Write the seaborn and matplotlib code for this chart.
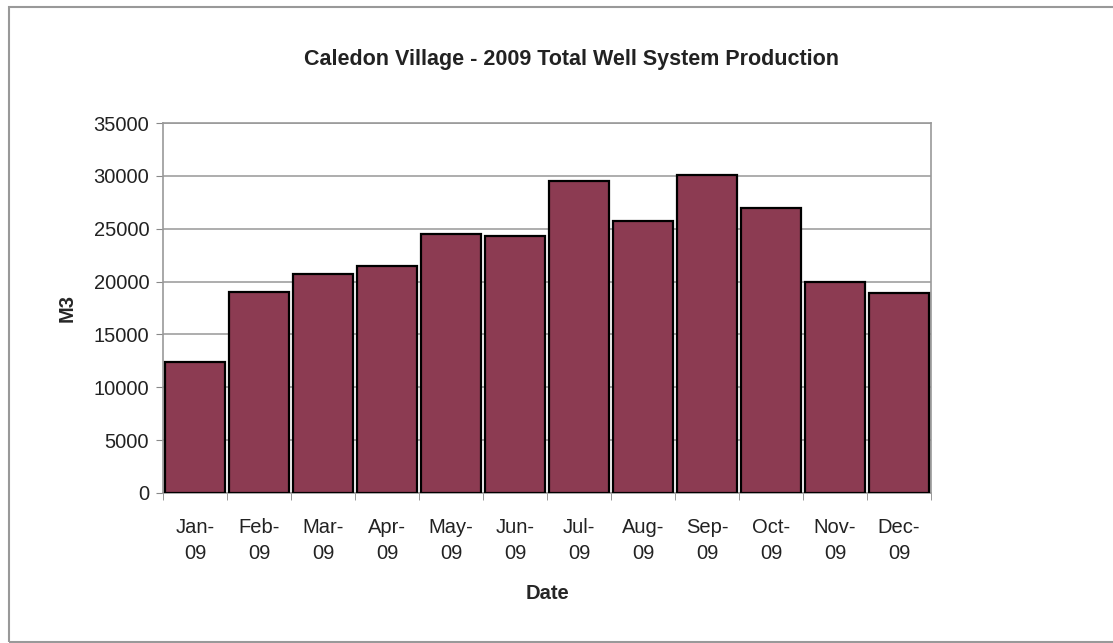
import numpy as np
import pandas as pd
import seaborn as sns
import matplotlib
matplotlib.use('Agg')
import matplotlib.pyplot as plt
from matplotlib.patches import Rectangle

months = ['Jan-\n09', 'Feb-\n09', 'Mar-\n09', 'Apr-\n09', 'May-\n09', 'Jun-\n09',
          'Jul-\n09', 'Aug-\n09', 'Sep-\n09', 'Oct-\n09', 'Nov-\n09', 'Dec-\n09']
production = [12400, 19000, 20700, 21500, 24500, 24300,
              29500, 25700, 30100, 27000, 20000, 18900]
yticks = [0, 5000, 10000, 15000, 20000, 25000, 30000, 35000]

df = pd.DataFrame({'Date': months, 'M3': production})

sns.set_style('white')
plt.rcParams['font.family'] = ['Liberation Sans', 'DejaVu Sans']

fig = plt.figure(figsize=(11.13, 6.43), dpi=100)
ax = fig.add_axes([0.1465, 0.2333, 0.690, 0.5754])

sns.barplot(data=df, x='Date', y='M3', color='#8c3b52', saturation=1,
            edgecolor='black', linewidth=1.6, width=0.93, ax=ax, zorder=3)

ax.set_ylim(0, 35000)
ax.set_xlim(-0.5, len(months) - 0.5)
ax.set_yticks(yticks)
ax.set_yticklabels([str(v) for v in yticks], fontsize=14.5, color='#222222')
ax.yaxis.grid(True, color='#a0a0a0', linewidth=1.2, zorder=0)
ax.tick_params(axis='y', length=5, color='#888888', pad=5, left=True)
ax.set_xticks(range(len(months)))
ax.set_xticklabels(months, fontsize=14.5, color='#222222', linespacing=1.5)
ax.tick_params(axis='x', length=0, pad=18)
ax.set_xticks(np.arange(-0.5, len(months)), minor=True)
ax.tick_params(axis='x', which='minor', length=5, color='#888888', bottom=True)

for side in ['left', 'top', 'right', 'bottom']:
    ax.spines[side].set_visible(True)
    ax.spines[side].set_color('#999999')
    ax.spines[side].set_linewidth(1.2)

ax.set_xlabel('Date', fontsize=14.5, fontweight='bold', labelpad=15)
ax.set_ylabel('M3', fontsize=14.5, fontweight='bold', labelpad=12)

fig.text(571 / 1113, 1 - 60 / 643, 'Caledon Village - 2009 Total Well System Production',
         ha='center', va='center', fontsize=15.5, fontweight='bold', color='#222222')

fig.patches.append(Rectangle((9 / 1113, 0.002), 1.2, 1 - 7 / 643 - 0.002,
                             transform=fig.transFigure, fill=False,
                             edgecolor='#999999', linewidth=1.5))

fig.savefig('out.png', dpi=100)
